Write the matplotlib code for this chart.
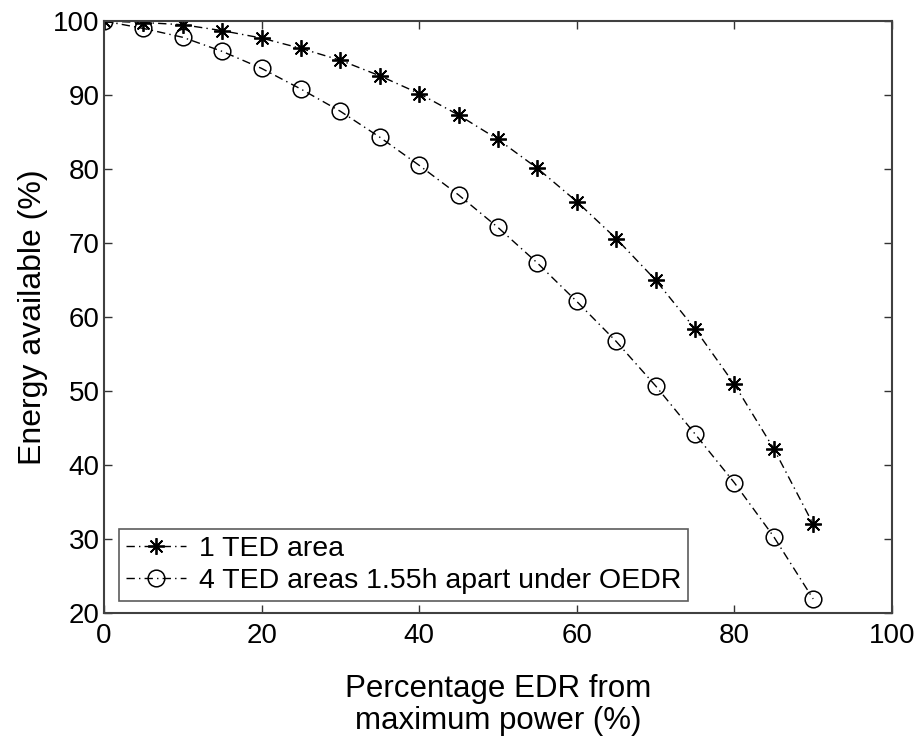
import matplotlib
matplotlib.use("Agg")
import matplotlib.pyplot as plt

plt.rcParams['font.family'] = ['Liberation Sans', 'DejaVu Sans']

edr = [0, 5, 10, 15, 20, 25, 30, 35, 40, 45, 50, 55, 60, 65, 70, 75, 80, 85, 90]
one_ted = [100, 99.8, 99.5, 98.7, 97.7, 96.3, 94.7, 92.6, 90.2, 87.3, 84.0, 80.1,
           75.6, 70.6, 65.0, 58.4, 50.9, 42.2, 32.0]
four_ted = [100, 99.0, 97.8, 95.9, 93.6, 90.8, 87.8, 84.3, 80.5, 76.5, 72.1, 67.3,
            62.1, 56.7, 50.7, 44.2, 37.6, 30.3, 21.9]
series_labels = ['1 TED area', '4 TED areas 1.55h apart under OEDR']
xticks = [0, 20, 40, 60, 80, 100]
yticks = [20, 30, 40, 50, 60, 70, 80, 90, 100]

fig = plt.figure(figsize=(9.21, 7.38), dpi=100)
ax = fig.add_axes([0.1129, 0.1694, 0.8556, 0.8021])

dash = (0, (6, 3, 1, 3))
ax.plot(edr, one_ted, linestyle=dash, color='black', linewidth=1.0,
        marker=(8, 2, 0), markersize=12, markeredgewidth=1.3,
        markeredgecolor='black', label=series_labels[0])
ax.plot(edr, four_ted, linestyle=dash, color='black', linewidth=1.0,
        marker='o', markersize=12, markerfacecolor='none',
        markeredgewidth=1.1, markeredgecolor='black', label=series_labels[1])

ax.set_xlim(0, 100)
ax.set_ylim(20, 100)
ax.set_xticks(xticks)
ax.set_yticks(yticks)
ax.tick_params(direction='in', length=6, width=1.0, top=True, right=True,
               labelsize=20, colors='#333333', labelcolor='black')
ax.tick_params(axis='x', pad=7)
ax.tick_params(axis='y', pad=3)
for sp in ax.spines.values():
    sp.set_color('#404040')
    sp.set_linewidth(1.5)

ax.set_xlabel('Percentage EDR from\nmaximum power (%)', fontsize=22.5,
              labelpad=18, linespacing=1.1)
ax.set_ylabel('Energy available (%)', fontsize=23, labelpad=4)

leg = ax.legend(loc='lower left', bbox_to_anchor=(0.019, 0.02), fontsize=20.5,
                frameon=True, fancybox=False, edgecolor='#333333',
                handlelength=2.1, handletextpad=0.45, borderpad=0.25,
                labelspacing=0.2, borderaxespad=0.0)
leg.get_frame().set_linewidth(1.2)

fig.savefig('out.png', dpi=100)
